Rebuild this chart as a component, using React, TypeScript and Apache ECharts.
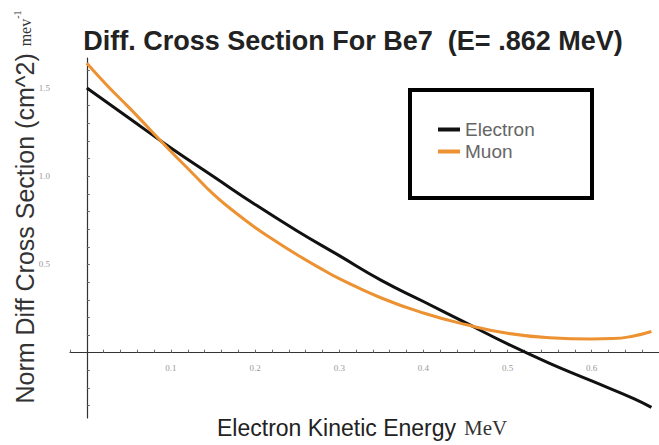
import React, { useEffect, useRef } from "react";
import * as echarts from "echarts";

// Electron kinetic energy (MeV) sample points and normalized cross sections
const electronX = [0, 0.05, 0.1, 0.15, 0.2, 0.25, 0.3, 0.35, 0.4, 0.45, 0.5, 0.55, 0.6, 0.65, 0.671];
const electronY = [1.5, 1.33, 1.16, 1.0, 0.84, 0.69, 0.55, 0.41, 0.29, 0.17, 0.05, -0.06, -0.16, -0.26, -0.31];

const muonX = [0, 0.025, 0.05, 0.075, 0.1, 0.125, 0.15, 0.175, 0.2, 0.225, 0.25, 0.275, 0.3, 0.35, 0.4, 0.45, 0.5, 0.55, 0.6, 0.625, 0.65, 0.671];
const muonY = [1.64, 1.51, 1.39, 1.265, 1.14, 1.02, 0.9, 0.8, 0.71, 0.63, 0.555, 0.485, 0.42, 0.31, 0.225, 0.16, 0.11, 0.085, 0.078, 0.08, 0.095, 0.12];

const xTickLabels = [0.1, 0.2, 0.3, 0.4, 0.5, 0.6];
const xTicks = [
  -0.02, 0.02, 0.04, 0.06, 0.08, 0.1, 0.12, 0.14, 0.16, 0.18, 0.2, 0.22, 0.24, 0.26, 0.28, 0.3,
  0.32, 0.34, 0.36, 0.38, 0.4, 0.42, 0.44, 0.46, 0.48, 0.5, 0.52, 0.54, 0.56, 0.58, 0.6,
  0.62, 0.64, 0.66,
];
const yTickLabels = [0.5, 1.0, 1.5];
const yTicks = [-0.3, -0.2, -0.1, 0.1, 0.2, 0.3, 0.4, 0.5, 0.6, 0.7, 0.8, 0.9, 1.0, 1.1, 1.2, 1.3, 1.4, 1.5, 1.6];

const seriesNames = ["Electron", "Muon"];
const titleText = "Diff. Cross Section For Be7  (E= .862 MeV)";

const SANS = "'Liberation Sans', Arial, Helvetica, sans-serif";
const SERIF = "'Liberation Serif', 'Times New Roman', serif";

export default function App() {
  const ref = useRef<HTMLDivElement>(null);
  useEffect(() => {
    if (!ref.current) return;
    const chart = echarts.init(ref.current, undefined, { renderer: "svg" });
    const electron = electronX.map((x, i) => [x, electronY[i]]);
    const muon = muonX.map((x, i) => [x, muonY[i]]);
    chart.setOption({
      animation: false,
      backgroundColor: "#ffffff",
      grid: { left: 70, right: 0, top: 58, bottom: 27, containLabel: false },
      xAxis: {
        type: "value",
        min: -0.02,
        max: 0.68,
        axisLine: { onZero: true, lineStyle: { color: "#333", width: 1.2 } },
        axisTick: { show: true, inside: true, length: 3, customValues: xTicks, lineStyle: { color: "#666" } },
        axisLabel: {
          customValues: xTickLabels,
          formatter: (v: number) => v.toFixed(1),
          fontSize: 9,
          color: "#999",
          margin: -55,
          fontFamily: SERIF,
          hideOverlap: false,
        },
        splitLine: { show: false },
      },
      yAxis: {
        type: "value",
        min: -0.37,
        max: 1.67,
        axisLine: { show: true, onZero: true, lineStyle: { color: "#333", width: 1.2 } },
        axisTick: { show: true, inside: true, length: 3, customValues: yTicks, lineStyle: { color: "#666" } },
        axisLabel: {
          customValues: yTickLabels,
          formatter: (v: number) => v.toFixed(1),
          fontSize: 9,
          color: "#999",
          margin: 20,
          fontFamily: SERIF,
        },
        splitLine: { show: false },
      },
      legend: {
        data: seriesNames,
        orient: "vertical",
        left: 438,
        top: 120,
        icon: "rect",
        itemWidth: 22,
        itemHeight: 4,
        itemGap: 3,
        padding: 0,
        textStyle: { fontSize: 19, color: "#666", fontFamily: SANS },
      },
      series: [
        {
          name: seriesNames[0],
          type: "line",
          data: electron,
          smooth: true,
          showSymbol: false,
          lineStyle: { color: "#111", width: 3 },
          itemStyle: { color: "#111" },
        },
        {
          name: seriesNames[1],
          type: "line",
          data: muon,
          smooth: true,
          showSymbol: false,
          lineStyle: { color: "#ec9232", width: 3 },
          itemStyle: { color: "#ec9232" },
        },
      ],
      graphic: [
        {
          type: "text",
          x: 353,
          y: 41,
          style: {
            text: titleText,
            fontSize: 27,
            fontWeight: "bold",
            fontFamily: SANS,
            fill: "#222",
            textAlign: "center",
            textVerticalAlign: "middle",
          },
        },
        {
          type: "text",
          x: 25,
          y: 207,
          rotation: Math.PI / 2,
          style: {
            text: "{a|Norm Diff Cross Section (cm^2) }{b|mev}{c|-1}",
            textAlign: "center",
            textVerticalAlign: "middle",
            fill: "#333",
            rich: {
              a: { fontSize: 25, fontFamily: SANS, fill: "#333" },
              b: { fontSize: 16, fontFamily: SERIF, fill: "#333" },
              c: { fontSize: 10, fontFamily: SERIF, fill: "#333", verticalAlign: "top" },
            },
          },
        },
        {
          type: "text",
          x: 217,
          y: 428,
          style: {
            text: "{a|Electron Kinetic Energy}{b|MeV}",
            textAlign: "left",
            textVerticalAlign: "middle",
            fill: "#222",
            rich: {
              a: { fontSize: 23, fontFamily: SANS, fill: "#222" },
              b: { fontSize: 21, fontFamily: SERIF, fill: "#333", padding: [0, 0, 0, 8] },
            },
          },
        },
        {
          type: "rect",
          shape: { x: 410, y: 90, width: 182, height: 108 },
          style: { fill: "none", stroke: "#000", lineWidth: 4 },
        },
      ],
    });
    return () => chart.dispose();
  }, []);
  return (
    <div
      ref={ref}
      style={{ position: "absolute", left: 0, top: 0, width: 659, height: 445 }}
    />
  );
}
